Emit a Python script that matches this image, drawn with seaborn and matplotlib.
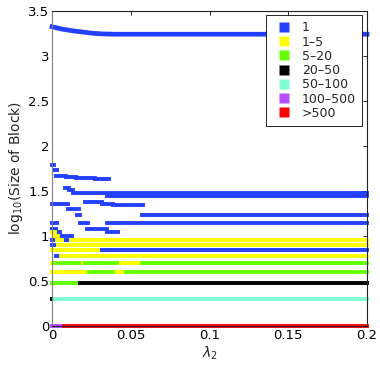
import numpy as np
import pandas as pd
import seaborn as sns
import matplotlib.pyplot as plt
from matplotlib.lines import Line2D
from matplotlib.ticker import FormatStrFormatter

# block-size classes and their colours
classes = ['1', '1–5', '5–20', '20–50', '50–100', '100–500', '>500']
class_colors = ['#2440ff', '#ffff00', '#66ff00', '#000000', '#7fffd4', '#b44cff', '#ff0000']

# largest block: log10 size vs lambda_2
top_lam = [0.0, 0.006, 0.013, 0.020, 0.026, 0.033, 0.040, 0.2]
top_size = [3.325, 3.300, 3.280, 3.265, 3.252, 3.245, 3.242, 3.242]

# horizontal pieces: log10 size, lambda_2 start / end, class index
seg_y = [1.790, 1.730, 1.664, 1.653, 1.642, 1.628,
         1.533, 1.516, 1.477, 1.447,
         1.382, 1.360, 1.342, 1.352, 1.304,
         1.232, 1.232,
         1.146, 1.146, 1.146,
         1.079, 1.079,
         1.041, 1.041, 1.041,
         1.000, 1.000,
         0.955, 0.955, 0.955, 0.955,
         0.903, 0.903,
         0.845, 0.845,
         0.778, 0.778, 0.778, 0.778, 0.778, 0.778,
         0.699, 0.699, 0.699, 0.699, 0.699, 0.699, 0.699, 0.699,
         0.602, 0.602, 0.602, 0.602,
         0.477, 0.477,
         0.301, 0.301,
         0.0, 0.0]
seg_x0 = [0.0, 0.001, 0.0025, 0.009, 0.015, 0.027,
          0.008, 0.011, 0.013, 0.035,
          0.021, 0.032, 0.039, 0.0, 0.010,
          0.016, 0.057,
          0.0, 0.018, 0.035,
          0.0, 0.022,
          0.0, 0.002, 0.035,
          0.002, 0.004,
          0.0, 0.003, 0.006, 0.012,
          0.0, 0.004,
          0.0, 0.029,
          0.0025, 0.0055, 0.0252, 0.0262, 0.0268, 0.0279,
          0.0, 0.0019, 0.0083, 0.011, 0.0173, 0.021, 0.041, 0.057,
          0.0, 0.0235, 0.039, 0.047,
          0.0, 0.0178,
          0.0, 0.002,
          0.0, 0.0075]
seg_x1 = [0.001, 0.003, 0.009, 0.015, 0.027, 0.036,
          0.011, 0.013, 0.2, 0.2,
          0.032, 0.039, 0.058, 0.010, 0.017,
          0.018, 0.2,
          0.003, 0.023, 0.2,
          0.0025, 0.035,
          0.002, 0.005, 0.042,
          0.004, 0.0127,
          0.003, 0.006, 0.012, 0.2,
          0.004, 0.2,
          0.029, 0.2,
          0.0055, 0.0252, 0.0262, 0.0268, 0.0279, 0.2,
          0.0019, 0.0083, 0.011, 0.0173, 0.021, 0.041, 0.057, 0.2,
          0.0235, 0.039, 0.047, 0.2,
          0.0178, 0.2,
          0.002, 0.2,
          0.0075, 0.2]
seg_cat = [0, 0, 0, 0, 0, 0,
           0, 0, 0, 0,
           0, 0, 0, 0, 0,
           0, 0,
           0, 0, 0,
           0, 0,
           1, 0, 0,
           1, 0,
           0, 1, 0, 1,
           0, 1,
           1, 0,
           0, 1, 0, 1, 0, 1,
           1, 2, 1, 2, 1, 2, 1, 2,
           1, 2, 1, 2,
           2, 3,
           3, 4,
           5, 6]

rows = []
for i, (y, a, b, c) in enumerate(zip(seg_y, seg_x0, seg_x1, seg_cat)):
    rows.append((i, a, y, classes[c]))
    rows.append((i, b, y, classes[c]))
df = pd.DataFrame(rows, columns=['seg', 'lam', 'logsize', 'cls'])
top = pd.DataFrame({'lam': top_lam, 'logsize': top_size})

sns.set_theme(style='white')
plt.rcParams['font.family'] = ['DejaVu Sans']

fig = plt.figure(figsize=(3.8, 3.67), dpi=100)
ax = fig.add_axes([0.137, 0.112, 0.829, 0.858])

sns.lineplot(data=top, x='lam', y='logsize', color=class_colors[0], linewidth=3.4,
             estimator=None, sort=False, ax=ax, clip_on=False, solid_capstyle='projecting')
sns.lineplot(data=df, x='lam', y='logsize', hue='cls', units='seg', estimator=None,
             hue_order=classes, palette=class_colors, linewidth=2.8, sort=False,
             legend=False, ax=ax, clip_on=False, solid_capstyle='projecting')

ax.set_xlim(0, 0.2)
ax.set_ylim(0, 3.5)
ax.set_xticks([0, 0.05, 0.1, 0.15, 0.2])
ax.set_yticks(np.arange(0, 3.51, 0.5))
ax.xaxis.set_major_formatter(FormatStrFormatter('%g'))
ax.yaxis.set_major_formatter(FormatStrFormatter('%g'))
ax.tick_params(direction='in', length=3, width=0.6, labelsize=9.5, colors='black',
               top=True, right=True, pad=2)
for side, sp in ax.spines.items():
    sp.set_color('#808080' if side == 'left' else '#222222')
    sp.set_linewidth(0.8)
ax.set_xlabel('$\\lambda_2$', fontsize=10, labelpad=2)
ax.set_ylabel('log$_{10}$(Size of Block)', fontsize=10, labelpad=2)

handles = [Line2D([], [], linestyle='none', marker='s', markersize=7.2,
                  markerfacecolor=c, markeredgecolor='none') for c in class_colors]
leg = ax.legend(handles, classes, loc='upper right', bbox_to_anchor=(0.984, 0.987),
                borderaxespad=0, fontsize=9, handlelength=2.0, handletextpad=0.38,
                labelspacing=0.1, borderpad=0.5, fancybox=False, framealpha=1,
                edgecolor='black')
leg.get_frame().set_linewidth(0.6)

fig.savefig('out.png', dpi=100)
